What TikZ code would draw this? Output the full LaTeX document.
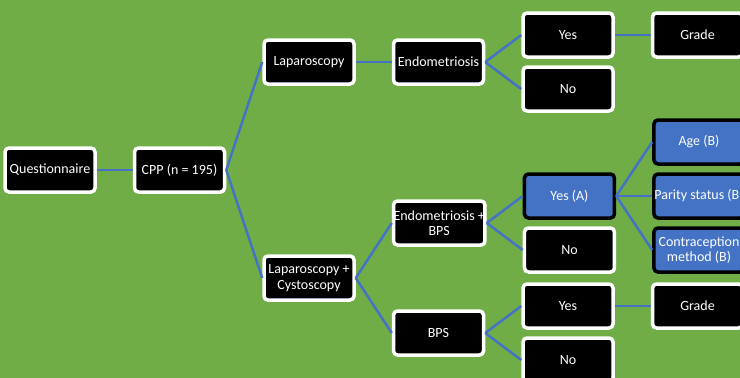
\documentclass[tikz,border=0pt]{standalone}
\usepackage{fontspec}
\setmainfont{Carlito}
\usetikzlibrary{positioning}
\definecolor{bggreen}{HTML}{70AD47}
\definecolor{linkblue}{HTML}{4472C4}

\begin{document}
\begin{tikzpicture}[
    box/.style={draw=white, fill=black, text=white, line width=3.5pt,
      rounded corners=4pt, minimum width=90pt, minimum height=44pt,
      align=center, inner xsep=0pt, inner ysep=1pt,
      font=\fontsize{14}{15.5}\selectfont},
    selbox/.style={box, draw=black, fill=linkblue},
    link/.style={draw=linkblue, line width=2.5pt},
  ]
  % page and background
  \clip (0,0) rectangle (740pt,-378pt);
  \fill[bggreen] (0,0) rectangle (740pt,-378pt);

  % root
  \node[box] (quest) at (50pt,-170pt) {Questionnaire};
  \node[box, right=36pt of quest] (cpp) {CPP (n = 195)};

  % procedures
  \node[box, right=36pt of cpp, yshift=108pt] (lap) {Laparoscopy};
  \node[box, right=36pt of cpp, yshift=-108pt] (lapcys) {Laparoscopy +\\Cystoscopy};

  % findings
  \node[box, right=36pt of lap] (endo) {Endometriosis};
  \node[box, right=36pt of lapcys, yshift=55pt] (endobps) {Endometriosis +\\BPS};
  \node[box, right=36pt of lapcys, yshift=-55pt] (bps) {BPS};

  % outcomes
  \node[box, right=36pt of endo, yshift=27pt] (yes1) {Yes};
  \node[box, right=36pt of endo, yshift=-27pt] (no1) {No};
  \node[selbox, right=36pt of endobps, yshift=27pt] (yesA) {Yes (A)};
  \node[box, right=36pt of endobps, yshift=-27pt] (no2) {No};
  \node[box, right=36pt of bps, yshift=27pt] (yes3) {Yes};
  \node[box, right=36pt of bps, yshift=-27pt] (no3) {No};

  % details
  \node[box, right=36pt of yes1] (grade1) {Grade};
  \node[selbox, right=36pt of yesA, yshift=54pt] (age) {Age (B)};
  \node[selbox, right=36pt of yesA] (parity) {Parity status (B)};
  \node[selbox, right=36pt of yesA, yshift=-54pt] (contra) {Contraception\\method (B)};
  \node[box, right=36pt of yes3] (grade2) {Grade};

  % connectors
  \draw[link] (quest.east) -- (cpp.west);
  \draw[link] (cpp.east) -- (lap.west);
  \draw[link] (cpp.east) -- (lapcys.west);
  \draw[link] (lap.east) -- (endo.west);
  \draw[link] (lapcys.east) -- (endobps.west);
  \draw[link] (lapcys.east) -- (bps.west);
  \draw[link] (endo.east) -- (yes1.west);
  \draw[link] (endo.east) -- (no1.west);
  \draw[link] (endobps.east) -- (yesA.west);
  \draw[link] (endobps.east) -- (no2.west);
  \draw[link] (bps.east) -- (yes3.west);
  \draw[link] (bps.east) -- (no3.west);
  \draw[link] (yes1.east) -- (grade1.west);
  \draw[link] (yesA.east) -- (age.west);
  \draw[link] (yesA.east) -- (parity.west);
  \draw[link] (yesA.east) -- (contra.west);
  \draw[link] (yes3.east) -- (grade2.west);
\end{tikzpicture}
\end{document}
